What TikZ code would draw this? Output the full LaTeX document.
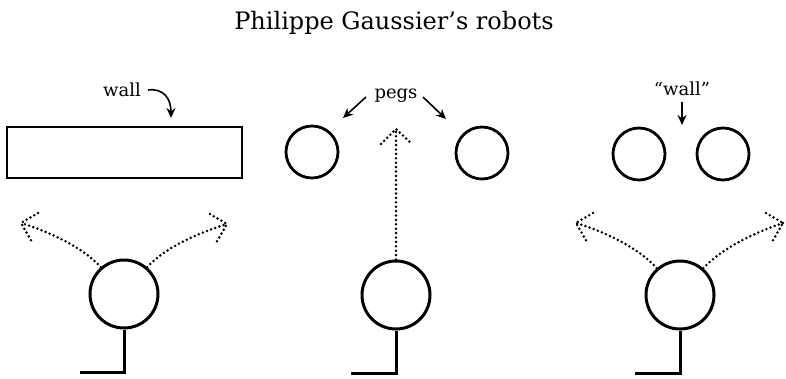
\documentclass[tikz,border=0pt]{standalone}
\usepackage{fontspec}
\setmainfont{DejaVu Serif}
\usetikzlibrary{arrows.meta}

\tikzset{
  solid line/.style={line width=3pt},
  robot/.style={circle, draw, line width=3pt, minimum size=68pt, inner sep=0pt},
  peg/.style={circle, draw, line width=2.8pt, minimum size=52pt, inner sep=0pt},
  dotline/.style={line width=2.8pt, line cap=round, dash pattern=on 0pt off 4.4pt},
  pointer/.style={line width=1.6pt, -{Stealth[length=10pt,width=9pt]}},
  label/.style={font=\fontsize{18}{20}\selectfont, inner sep=0pt, anchor=base},
}

\begin{document}
\begin{tikzpicture}[x=1pt, y=-1pt]
  \useasboundingbox (0,0) rectangle (786,378);

  % title
  \node[anchor=base, inner sep=0pt, font=\fontsize{24}{28}\selectfont] (title) at (394,29) {Philippe Gaussier’s robots};

  % ---------- left: robot facing a wall ----------
  \node[draw, line width=2.8pt, minimum width=235pt, minimum height=51pt, inner sep=0pt] (wall) at (124.5,152.5) {};
  \node[label] (walltext) at (122,96) {wall};
  \coordinate (walltip) at (171,118);
  \draw[pointer] (148,90) .. controls (163,88) and (171,98) .. (walltip);

  \node[robot] (L) at (124,294) {};
  \coordinate (Lknee) at (124,372);
  \coordinate (Lfoot) at (80,372);
  \draw[solid line] (L.south) -- (Lknee) -- (Lfoot);

  \coordinate (La) at (21,223);
  \coordinate (Lb) at (227,224);
  \draw[dotline] (L.131) .. controls (84,248) and (50,232) .. (La);
  \draw[dotline] (La) ++(17,-10) -- (La) -- ++(11,19);
  \draw[dotline] (L.49) .. controls (164,248) and (198,233) .. (Lb);
  \draw[dotline] (Lb) ++(-17,-10) -- (Lb) -- ++(-11,19);

  % ---------- middle: robot between two pegs ----------
  \node[label] (pegs) at (396,98) {pegs};
  \node[peg] (P1) at (312,152) {};
  \node[peg] (P2) at (482,153) {};
  \coordinate (P1tip) at (343,118);
  \coordinate (P2tip) at (446,119);
  \draw[pointer] (366,97) -- (P1tip);
  \draw[pointer] (423,97) -- (P2tip);

  \node[robot] (M) at (396,295) {};
  \coordinate (Mknee) at (396,373);
  \coordinate (Mfoot) at (351,373);
  \draw[solid line] (M.south) -- (Mknee) -- (Mfoot);

  \coordinate (Ma) at (396,129);
  \draw[dotline] (M.north) -- (Ma);
  \draw[dotline] (Ma) ++(-15,15) -- (Ma) -- ++(16,15);

  % ---------- right: robot facing two close pegs ----------
  \node[label] (qwall) at (682,95) {“wall”};
  \coordinate (qtip) at (682,125);
  \draw[pointer] (682,102) -- (qtip);
  \node[peg] (Q1) at (639,154) {};
  \node[peg] (Q2) at (723,154) {};

  \node[robot] (R) at (680,295) {};
  \coordinate (Rknee) at (680,373);
  \coordinate (Rfoot) at (635,373);
  \draw[solid line] (R.south) -- (Rknee) -- (Rfoot);

  \coordinate (Ra) at (576,223);
  \coordinate (Rb) at (783,223);
  \draw[dotline] (R.131) .. controls (640,249) and (606,232) .. (Ra);
  \draw[dotline] (Ra) ++(17,-10) -- (Ra) -- ++(11,19);
  \draw[dotline] (R.49) .. controls (722,248) and (756,232) .. (Rb);
  \draw[dotline] (Rb) ++(-17,-10) -- (Rb) -- ++(-11,19);
\end{tikzpicture}
\end{document}
